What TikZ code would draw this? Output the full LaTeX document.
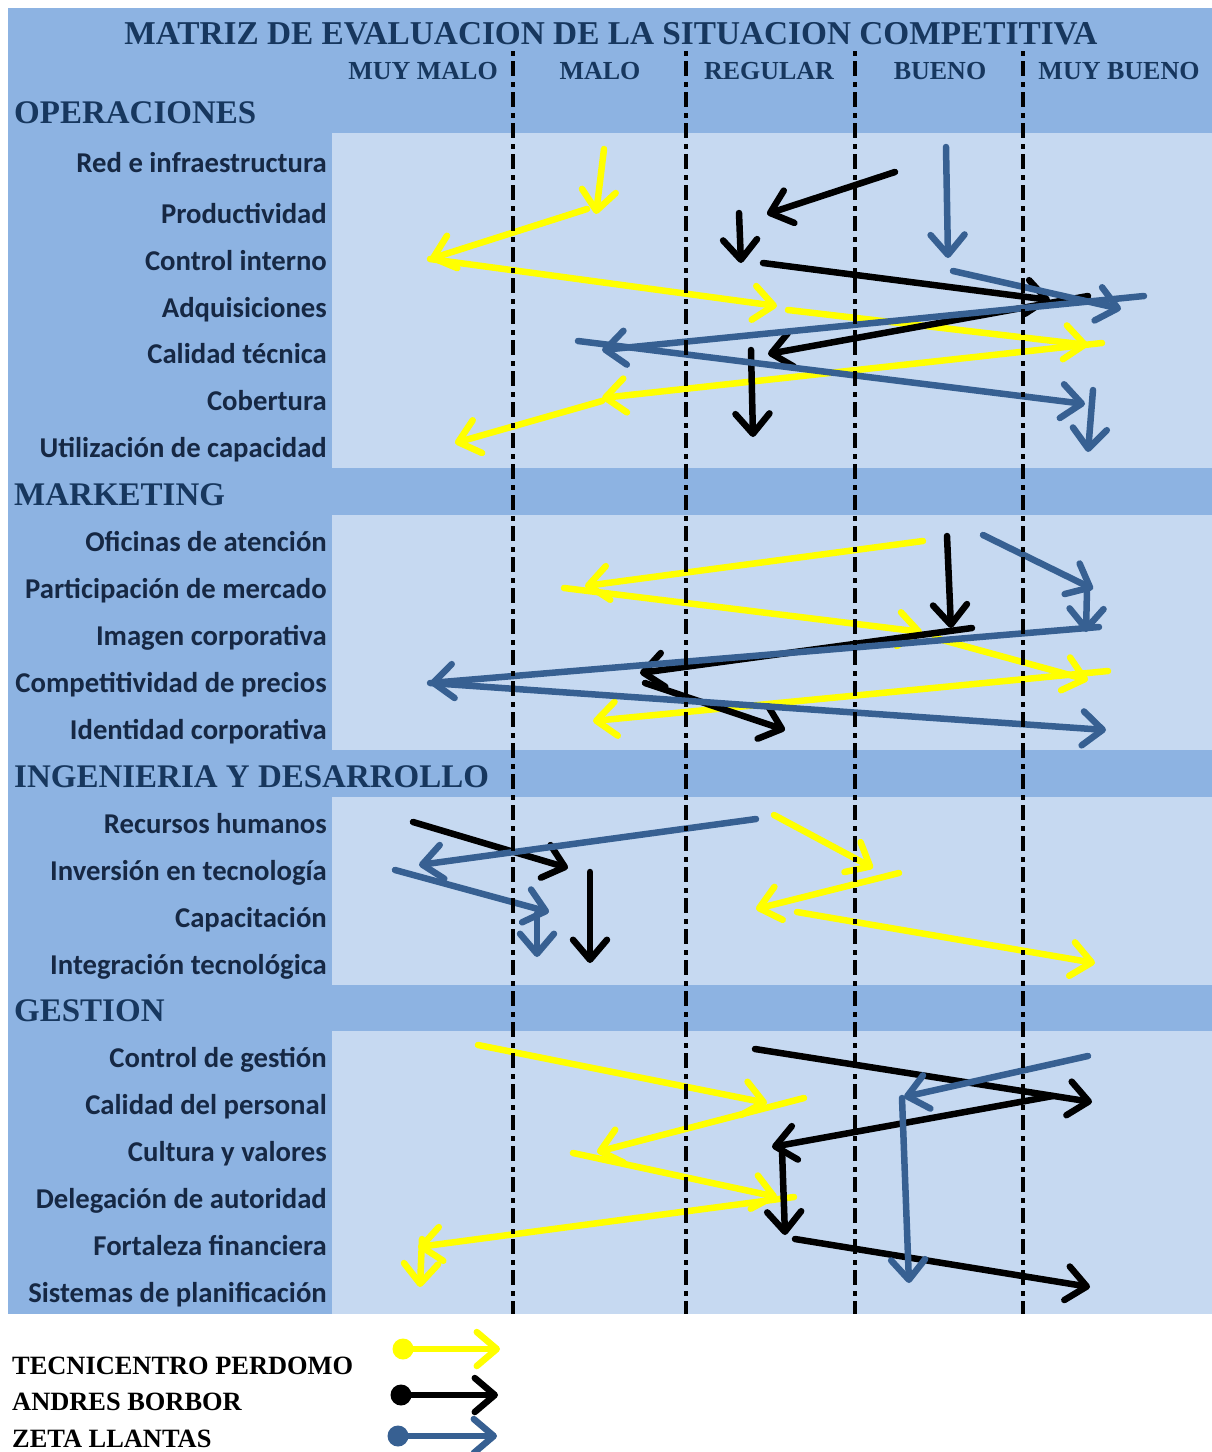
\documentclass[tikz,border=0pt]{standalone}
\usepackage{fontspec}
\setmainfont{Liberation Serif}
\newfontfamily\lblfont{Carlito}
\usetikzlibrary{arrows.meta}
\definecolor{midblue}{RGB}{141,179,226}
\definecolor{lightblue}{RGB}{198,217,241}
\definecolor{navy}{RGB}{23,55,94}
\definecolor{lblnavy}{RGB}{22,40,68}
\definecolor{zeta}{RGB}{55,96,146}
\definecolor{tyellow}{RGB}{255,255,0}
\tikzset{
 arrbase/.style={line width=6.5pt, line cap=round, line join=round, -{Straight Barb[length=20pt,width=34pt,round]}},
 yl/.style={arrbase, draw=tyellow},
 bk/.style={arrbase, draw=black},
 zt/.style={arrbase, draw=zeta},
 divline/.style={line width=4pt, dash pattern=on 5pt off 5pt on 15pt off 6pt},
 rowlbl/.style={anchor=base east, text=lblnavy, font=\lblfont\bfseries\fontsize{28.7}{30}\selectfont, inner sep=0pt},
 sechdr/.style={anchor=base west, text=navy, font=\bfseries\fontsize{33}{36}\selectfont, inner sep=0pt},
 colhdr/.style={anchor=base, text=navy, font=\bfseries\fontsize{26}{28}\selectfont, inner sep=0pt},
 legtxt/.style={anchor=base west, text=black, font=\bfseries\fontsize{26.4}{28}\selectfont, inner sep=0pt},
 legdot/.style={circle, inner sep=0pt, minimum size=21pt},
}
\begin{document}
\begin{tikzpicture}[x=1pt,y=-1pt]
\useasboundingbox (0,0) rectangle (1212,1452);
\fill[white] (0,0) rectangle (1212,1452);
\fill[midblue] (8,8) rectangle (1212,1314);
\fill[lightblue] (332,133) rectangle (1212,468);
\fill[lightblue] (332,515) rectangle (1212,750);
\fill[lightblue] (332,797) rectangle (1212,985);
\fill[lightblue] (332,1031) rectangle (1212,1314);

% headers
\node[anchor=base, text=navy, font=\bfseries\fontsize{33.3}{36}\selectfont, inner sep=0pt] (title) at (611,44) {MATRIZ DE EVALUACION DE LA SITUACION COMPETITIVA};
\node[colhdr] (c1) at (423,79) {MUY MALO};
\node[colhdr] (c2) at (600,79) {MALO};
\node[colhdr] (c3) at (769,79) {REGULAR};
\node[colhdr] (c4) at (940,79) {BUENO};
\node[colhdr] (c5) at (1119,79) {MUY BUENO};

\node[sechdr] (s1) at (14,123) {OPERACIONES};
\node[sechdr] (s2) at (14,505) {MARKETING};
\node[sechdr] (s3) at (14,787) {INGENIERIA Y DESARROLLO};
\node[sechdr] (s4) at (14,1021) {GESTION};

% row labels
\node[rowlbl] (r1) at (327,172) {Red e infraestructura};
\node[rowlbl] (r2) at (327,223) {Productividad};
\node[rowlbl] (r3) at (327,270) {Control interno};
\node[rowlbl] (r4) at (327,317) {Adquisiciones};
\node[rowlbl] (r5) at (327,363) {Calidad técnica};
\node[rowlbl] (r6) at (327,410) {Cobertura};
\node[rowlbl] (r7) at (327,457) {Utilización de capacidad};
\node[rowlbl] (r8) at (327,551) {Oficinas de atención};
\node[rowlbl] (r9) at (327,598) {Participación de mercado};
\node[rowlbl] (r10) at (327,645) {Imagen corporativa};
\node[rowlbl] (r11) at (327,692) {Competitividad de precios};
\node[rowlbl] (r12) at (327,739) {Identidad corporativa};
\node[rowlbl] (r13) at (327,833) {Recursos humanos};
\node[rowlbl] (r14) at (327,880) {Inversión en tecnología};
\node[rowlbl] (r15) at (327,927) {Capacitación};
\node[rowlbl] (r16) at (327,974) {Integración tecnológica};
\node[rowlbl] (r17) at (327,1067) {Control de gestión};
\node[rowlbl] (r18) at (327,1114) {Calidad del personal};
\node[rowlbl] (r19) at (327,1161) {Cultura y valores};
\node[rowlbl] (r20) at (327,1208) {Delegación de autoridad};
\node[rowlbl] (r21) at (327,1255) {Fortaleza financiera};
\node[rowlbl] (r22) at (327,1302) {Sistemas de planificación};

% ---------- coordinates: yellow ----------
\path (604,149) coordinate (y1s) (596,214) coordinate (y1e)
      (587,209) coordinate (y2s) (430,259) coordinate (y2e)
      (430,259) coordinate (y3s) (777,306) coordinate (y3e)
      (788,310) coordinate (y4s) (1088,345) coordinate (y4e)
      (1102,343) coordinate (y5s) (602,398) coordinate (y5e)
      (602,401) coordinate (y6s) (455,443) coordinate (y6e)
      (923,541) coordinate (y7s) (585,586) coordinate (y7e)
      (564,588) coordinate (y8s) (922,632) coordinate (y8e)
      (935,638) coordinate (y9s) (1088,680) coordinate (y9e)
      (1108,671) coordinate (y10s) (593,721) coordinate (y10e)
      (774,815) coordinate (y11s) (873,868) coordinate (y11e)
      (899,873) coordinate (y12s) (756,909) coordinate (y12e)
      (797,912) coordinate (y13s) (1095,963) coordinate (y13e)
      (478,1045) coordinate (y14s) (767,1103) coordinate (y14e)
      (804,1098) coordinate (y15s) (597,1152) coordinate (y15e)
      (573,1153) coordinate (y16s) (777,1197) coordinate (y16e)
      (794,1197) coordinate (y17s) (418,1247) coordinate (y17e)
      (422,1239) coordinate (y18s) (420,1287) coordinate (y18e);
% ---------- coordinates: black ----------
\path (895,172) coordinate (b1s) (767,214) coordinate (b1e)
      (739,213) coordinate (b2s) (741,263) coordinate (b2e)
      (763,263) coordinate (b3s) (1050,300) coordinate (b3e)
      (1088,296) coordinate (b4s) (768,354) coordinate (b4e)
      (751,350) coordinate (b5s) (753,437) coordinate (b5e)
      (947,536) coordinate (b6s) (951,628) coordinate (b6e)
      (972,628) coordinate (b7s) (640,673) coordinate (b7e)
      (645,683) coordinate (b8s) (785,730) coordinate (b8e)
      (413,822) coordinate (b9s) (568,868) coordinate (b9e)
      (590,872) coordinate (b10s) (590,963) coordinate (b10e)
      (755,1049) coordinate (b11s) (1092,1102) coordinate (b11e)
      (1053,1096) coordinate (b12s) (772,1147) coordinate (b12e)
      (782,1150) coordinate (b13s) (785,1235) coordinate (b13e)
      (795,1239) coordinate (b14s) (1090,1287) coordinate (b14e);
% ---------- coordinates: blue ----------
\path (946,147) coordinate (z1s) (948,258) coordinate (z1e)
      (953,271) coordinate (z2s) (1121,309) coordinate (z2e)
      (1144,296) coordinate (z3s) (602,350) coordinate (z3e)
      (578,341) coordinate (z4s) (1085,404) coordinate (z4e)
      (1093,390) coordinate (z5s) (1088,452) coordinate (z5e)
      (983,535) coordinate (z6s) (1093,589) coordinate (z6e)
      (1087,590) coordinate (z7s) (1086,632) coordinate (z7e)
      (1099,627) coordinate (z8s) (430,683) coordinate (z8e)
      (430,683) coordinate (z9s) (1106,730) coordinate (z9e)
      (756,819) coordinate (z10s) (419,865) coordinate (z10e)
      (395,870) coordinate (z11s) (549,912) coordinate (z11e)
      (537,913) coordinate (z12s) (537,957) coordinate (z12e)
      (1088,1056) coordinate (z13s) (904,1097) coordinate (z13e)
      (902,1098) coordinate (z14s) (909,1283) coordinate (z14e);

\foreach \i in {1,...,18} {\draw[yl] (y\i s) -- (y\i e);}
\foreach \i in {1,...,14} {\draw[bk] (b\i s) -- (b\i e);}
\foreach \i in {1,...,14} {\draw[zt] (z\i s) -- (z\i e);}

% dividers
\path (513,51) coordinate (d1t) (513,1314) coordinate (d1b)
      (686,51) coordinate (d2t) (686,1314) coordinate (d2b)
      (855,51) coordinate (d3t) (855,1314) coordinate (d3b)
      (1023,51) coordinate (d4t) (1023,1314) coordinate (d4b);
\foreach \i in {1,...,4} {\draw[divline] (d\i t) -- (d\i b);}

% legend
\node[legtxt] (l1) at (12,1374) {TECNICENTRO PERDOMO};
\node[legtxt] (l2) at (12,1410) {ANDRES BORBOR};
\node[legtxt] (l3) at (12,1447) {ZETA LLANTAS};
\node[legdot, fill=tyellow] (ld1) at (403,1349) {};
\node[legdot, fill=black] (ld2) at (401,1395) {};
\node[legdot, fill=zeta] (ld3) at (398,1436) {};
\coordinate (le1) at (500,1349);
\coordinate (le2) at (498,1395);
\coordinate (le3) at (497,1436);
\draw[yl] (ld1.center) -- (le1);
\draw[bk] (ld2.center) -- (le2);
\draw[zt] (ld3.center) -- (le3);
\end{tikzpicture}
\end{document}
